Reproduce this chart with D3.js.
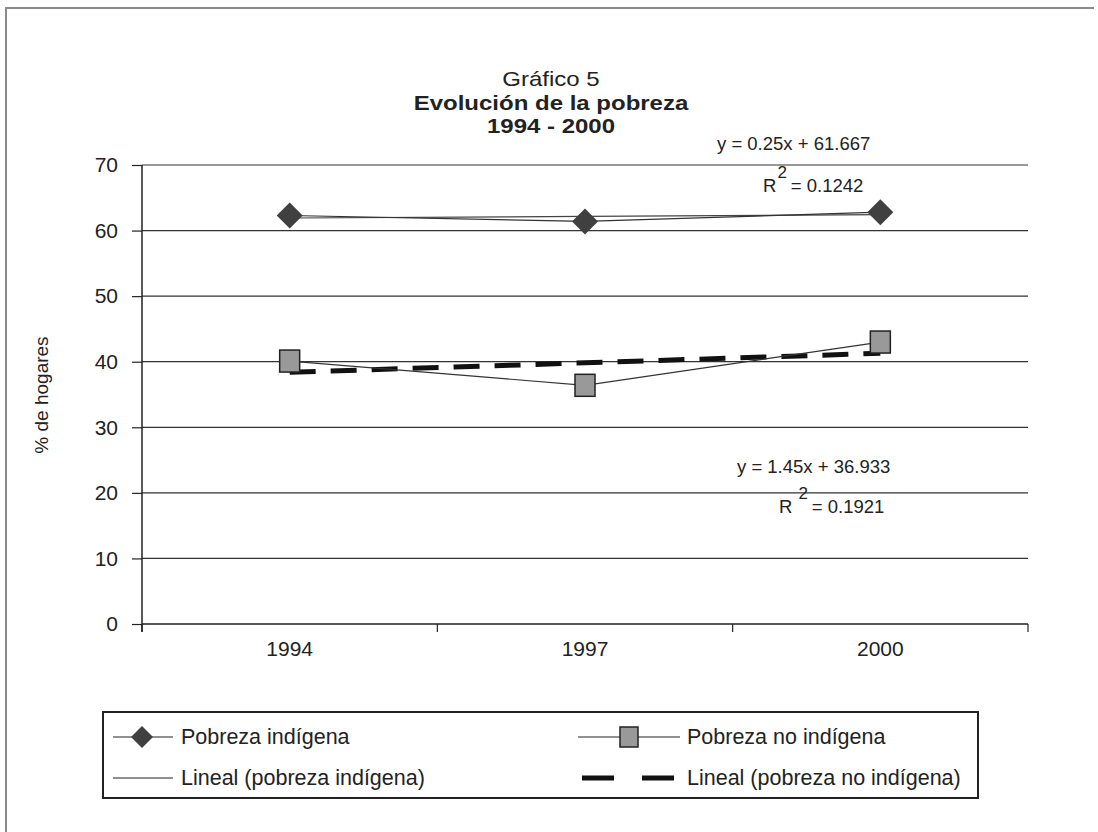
<!DOCTYPE html>
<html>
<head>
<meta charset="utf-8">
<script src="https://cdn.jsdelivr.net/npm/d3@7"></script>
<style>
body { margin: 0; background: white; }
text { font-family: "Liberation Sans", Arial, sans-serif; fill: #222; }
</style>
</head>
<body>
<script>
let W = 1098
let H = 832

// datos
let years = ["1994", "1997", "2000"]
let pobrezaIndigena = [62.3, 61.4, 62.8]
let pobrezaNoIndigena = [40.1, 36.4, 43.0]
let yTicks = [0, 10, 20, 30, 40, 50, 60, 70]
let trendSlope = [0.25, 1.45]
let trendIntercept = [61.667, 36.933]
let trendR2 = ["0.1242", "0.1921"]
let titleLines = ["Gráfico 5", "Evolución de la pobreza", "1994 - 2000"]
let legendLabels = ["Pobreza indígena", "Pobreza no indígena", "Lineal (pobreza indígena)", "Lineal (pobreza no indígena)"]

let svg = d3.select("body").append("svg")
    .attr("width", W)
    .attr("height", H)

// marco exterior
svg.append("path")
    .attr("d", `M6,${H} V8 H${W - 4}`)
    .attr("fill", "none")
    .attr("stroke", "#8a8a8a")
    .attr("stroke-width", 2)

let plot = { left: 142, right: 1028, top: 165, bottom: 624 }

let x = d3.scalePoint().domain(years).range([plot.left, plot.right]).padding(0.5)
let xBand = d3.scaleBand().domain(years).range([plot.left, plot.right])
let y = d3.scaleLinear().domain([0, 70]).range([plot.bottom, plot.top])

// título (letra algo ancha como en el original)
svg.append("g")
    .selectAll("text")
    .data(titleLines)
    .join("text")
    .attr("transform", (d, i) => `translate(551,${86 + i * 23.5}) scale(1.2,1)`)
    .attr("text-anchor", "middle")
    .style("font-size", "20px")
    .style("font-weight", (d, i) => i === 0 ? "normal" : "bold")
    .text(d => d)

// rejilla
svg.append("g")
    .selectAll("line")
    .data(yTicks.filter(d => d > 0))
    .join("line")
    .attr("x1", plot.left).attr("x2", plot.right)
    .attr("y1", d => y(d)).attr("y2", d => y(d))
    .attr("stroke", "#333").attr("stroke-width", 1.2)

// eje y
let yAxis = svg.append("g")
    .attr("transform", `translate(${plot.left},0)`)
    .call(d3.axisLeft(y).tickValues(yTicks).tickSize(10).tickPadding(14))
yAxis.select(".domain").attr("d", `M0,${plot.top}V${plot.bottom + 8}`).attr("stroke", "#222").attr("stroke-width", 1.5)
yAxis.selectAll(".tick line").attr("stroke", "#222").attr("stroke-width", 1.2)
yAxis.selectAll("text").style("font-size", "21px").attr("fill", "#222")

// eje x
let xAxis = svg.append("g").attr("transform", `translate(0,${plot.bottom})`)
xAxis.append("line")
    .attr("x1", plot.left).attr("x2", plot.right)
    .attr("stroke", "#222").attr("stroke-width", 1.5)
xAxis.selectAll(".xt")
    .data(years.map(d => xBand(d)).concat([plot.right]))
    .join("line").attr("class", "xt")
    .attr("x1", d => d).attr("x2", d => d)
    .attr("y1", 0).attr("y2", 8)
    .attr("stroke", "#222").attr("stroke-width", 1.2)
xAxis.selectAll("text")
    .data(years)
    .join("text")
    .attr("x", d => x(d)).attr("y", 32)
    .attr("text-anchor", "middle")
    .style("font-size", "21px")
    .text(d => d)

// título eje y
svg.append("text")
    .attr("transform", "translate(48,395) rotate(-90)")
    .attr("text-anchor", "middle")
    .style("font-size", "19px")
    .text("% de hogares")

let line = d3.line().x((d, i) => x(years[i])).y(d => y(d))

let trend = (k) => years.map((d, i) => trendSlope[k] * (i + 1) + trendIntercept[k])

// líneas de tendencia
svg.append("path")
    .attr("d", line(trend(0)))
    .attr("fill", "none").attr("stroke", "#444").attr("stroke-width", 1.2)
svg.append("path")
    .attr("d", line(trend(1)))
    .attr("fill", "none").attr("stroke", "#111").attr("stroke-width", 5)
    .attr("stroke-dasharray", "26 15")

// series
svg.append("path")
    .attr("d", line(pobrezaIndigena))
    .attr("fill", "none").attr("stroke", "#333").attr("stroke-width", 1.2)
svg.append("path")
    .attr("d", line(pobrezaNoIndigena))
    .attr("fill", "none").attr("stroke", "#333").attr("stroke-width", 1.2)

let diamond = (cx, cy, r) => `M${cx},${cy - r}L${cx + r},${cy}L${cx},${cy + r}L${cx - r},${cy}Z`

svg.append("g")
    .selectAll("path")
    .data(pobrezaIndigena)
    .join("path")
    .attr("d", (d, i) => diamond(x(years[i]), y(d), 13))
    .attr("fill", "#404040")

svg.append("g")
    .selectAll("rect")
    .data(pobrezaNoIndigena)
    .join("rect")
    .attr("x", (d, i) => x(years[i]) - 10)
    .attr("y", d => y(d) - 11)
    .attr("width", 20).attr("height", 22)
    .attr("fill", "#999").attr("stroke", "#222").attr("stroke-width", 1.5)

// ecuaciones
let eq = svg.append("g").style("font-size", "18.5px")
eq.append("text").attr("x", 717).attr("y", 150).text(`y = ${trendSlope[0]}x + ${trendIntercept[0]}`)
let r1 = eq.append("text").attr("x", 763).attr("y", 192)
r1.append("tspan").text("R")
r1.append("tspan").attr("dx", 1).attr("dy", -14).style("font-size", "17px").text("2")
r1.append("tspan").attr("dx", 4).attr("dy", 14).text(`= ${trendR2[0]}`)
eq.append("text").attr("x", 737).attr("y", 473).text(`y = ${trendSlope[1]}x + ${trendIntercept[1]}`)
let r2 = eq.append("text").attr("x", 779).attr("y", 513)
r2.append("tspan").text("R")
r2.append("tspan").attr("dx", 6).attr("dy", -14).style("font-size", "17px").text("2")
r2.append("tspan").attr("dx", 4).attr("dy", 14).text(`= ${trendR2[1]}`)

// leyenda
let legend = svg.append("g")
legend.append("rect")
    .attr("x", 103).attr("y", 712).attr("width", 875).attr("height", 86)
    .attr("fill", "none").attr("stroke", "#222").attr("stroke-width", 2)

let legPos = [[113, 737, 60], [578, 737, 102], [113, 778, 60], [582, 778, 94]]
legPos.forEach(function (p, i) {
    let x0 = p[0], yy = p[1], len = p[2]
    let l = legend.append("line")
        .attr("x1", x0).attr("x2", x0 + len)
        .attr("y1", yy).attr("y2", yy)
        .attr("stroke", "#222").attr("stroke-width", 1.2)
    if (i === 3) l.attr("stroke", "#111").attr("stroke-width", 5).attr("stroke-dasharray", "32 28")
    if (i === 0) legend.append("path").attr("d", diamond(x0 + 29, yy, 11)).attr("fill", "#404040")
    if (i === 1) legend.append("rect")
        .attr("x", x0 + len / 2 - 9).attr("y", yy - 10)
        .attr("width", 18).attr("height", 20)
        .attr("fill", "#999").attr("stroke", "#222").attr("stroke-width", 1.5)
    legend.append("text")
        .attr("x", i % 2 === 0 ? 181 : 687).attr("y", yy + 7)
        .style("font-size", "21.5px")
        .text(legendLabels[i])
})
</script>
</body>
</html>
